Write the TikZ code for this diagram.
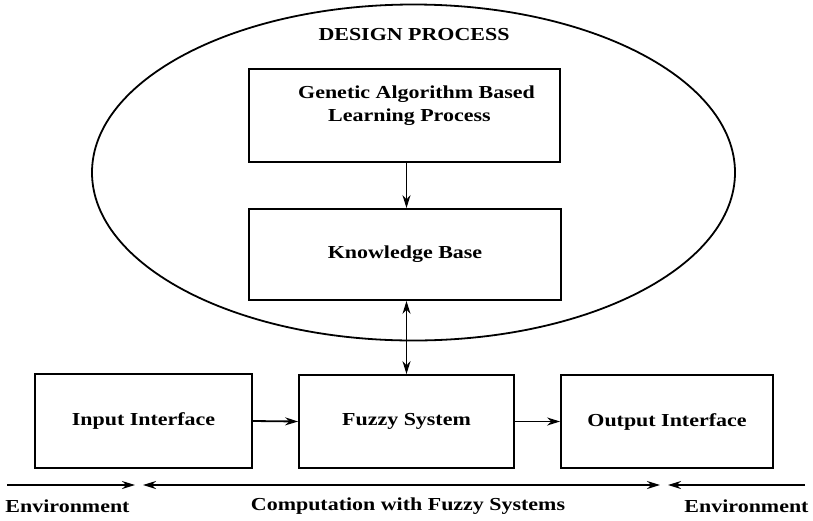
\documentclass[tikz,border=0pt]{standalone}
\usepackage{fontspec}
\setmainfont{Liberation Serif}[FakeStretch=1.2]
\usetikzlibrary{arrows.meta,shapes.geometric}
\begin{document}
\begin{tikzpicture}[x=1pt,y=-1pt,
  box/.style={draw, line width=1.8pt, fill=white, inner sep=0pt,
    font=\bfseries\fontsize{18.3}{23}\selectfont},
  lbl/.style={inner sep=0pt, font=\bfseries\fontsize{18.3}{23}\selectfont},
  arr/.style={line width=1.8pt, -{Stealth[length=13pt,width=8pt]}},
  darr/.style={line width=1.8pt, {Stealth[length=13pt,width=8pt]}-{Stealth[length=13pt,width=8pt]}}]
\useasboundingbox (0,0) rectangle (813,520);

% design process ellipse
\node[draw, ellipse, line width=1.8pt, inner sep=0pt,
  minimum width=643pt, minimum height=336pt] (dp) at (413.5,172.5) {};
\node[lbl] (dptitle) at (414,35) {DESIGN PROCESS};

% boxes
\node[box, minimum width=311pt, minimum height=93pt] (ga) at (404.5,115.5) {};
\node[lbl, align=left, anchor=west] (gatext) at (298,106)
  {Genetic Algorithm Based\\\mbox{\hspace{30pt}Learning Process}};
\node[box, minimum width=312pt, minimum height=91pt] (kb) at (405,254.5) {Knowledge Base};
\node[box, minimum width=217pt, minimum height=94pt] (in) at (143.5,421) {Input Interface};
\node[box, minimum width=215pt, minimum height=93pt] (fz) at (406.5,421.5) {Fuzzy System};
\node[box, minimum width=212pt, minimum height=93pt] (out) at (667,421.5) {Output Interface};

% connectors
\draw[arr] (ga.south -| fz.north) -- (kb.north -| fz.north);
\draw[darr] (kb.south -| fz.north) -- (fz.north);
\draw[arr] (in.east) -- (fz.west);
\draw[arr] (fz.east) -- (out.west);

% environment arrows
\coordinate (l1) at (7,485);
\coordinate (l2) at (135,485);
\coordinate (m1) at (143,485);
\coordinate (m2) at (660,485);
\coordinate (r1) at (805,485);
\coordinate (r2) at (668,485);
\draw[arr] (l1) -- (l2);
\draw[darr] (m1) -- (m2);
\draw[arr] (r1) -- (r2);

\node[lbl] (envl) at (67.5,506) {Environment};
\node[lbl] (comp) at (408,506) {Computation with Fuzzy Systems};
\node[lbl] (envr) at (746.5,506) {Environment};
\end{tikzpicture}
\end{document}
